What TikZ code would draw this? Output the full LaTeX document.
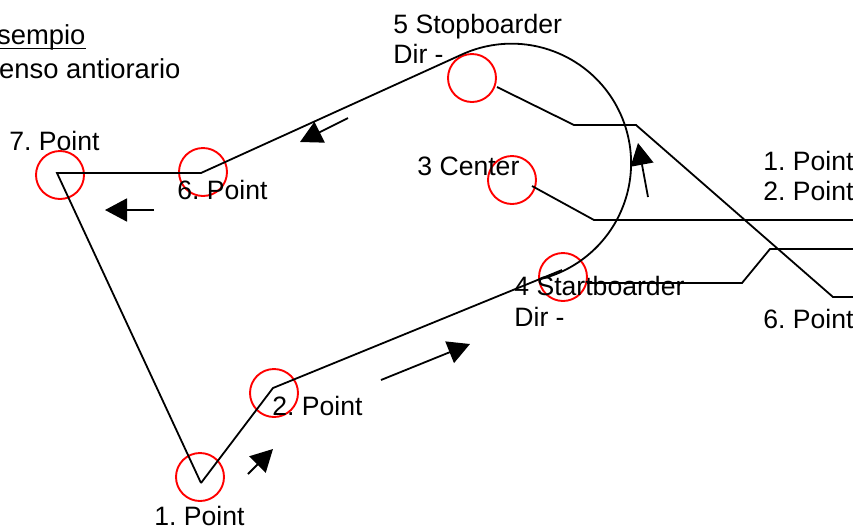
\documentclass[tikz,border=0pt]{standalone}
\usepackage{fontspec}
\setmainfont{Liberation Sans}
\usetikzlibrary{arrows.meta}
\frenchspacing
\begin{document}
\begin{tikzpicture}[x=0.5pt,y=-0.5pt]
	\clip (0,0) rectangle (853,526);
	\tikzstyle{mark point}=[circle,draw=red,line width=0.95pt,minimum size=24pt,inner sep=0pt]
	\tikzstyle{txt}=[anchor=base west,inner sep=0pt,font=\fontsize{13.3}{15}\selectfont]
	\tikzstyle{head}=[anchor=base west,inner sep=0pt,font=\fontsize{13.7}{15}\selectfont]
	\tikzstyle{line}=[line width=0.9pt,line join=miter]
	\tikzstyle{dir}=[line width=0.9pt,-{Triangle[length=11pt,width=11.5pt]}]

	\coordinate (P1) at (201,483);
	\coordinate (P2) at (273,388);
	\coordinate (P4) at (562,270);
	\coordinate (P5) at (463,54);
	\coordinate (P6) at (201,173);
	\coordinate (P7) at (57,173);

	\node[mark point] (M1) at (200,477) {};
	\node[mark point] (M2) at (274,393) {};
	\node[mark point] (M3) at (512,180) {};
	\node[mark point] (M4) at (563,277) {};
	\node[mark point] (M5) at (472,78) {};
	\node[mark point] (M6) at (203,172) {};
	\node[mark point] (M7) at (60,175) {};

	\draw[line] (P1) -- (P2) -- (P4);
	\draw[line] (P5) -- (P6) -- (P7) -- (P1);
	\draw[line] (P5) arc[start angle=-114,end angle=76.3,radius=119.5];

	% leaders
	\coordinate (L5a) at (497,87);
	\coordinate (L5b) at (574,125);
	\coordinate (L5c) at (636,125);
	\coordinate (L5d) at (833,297);
	\coordinate (L5e) at (853,297);
	\coordinate (L3a) at (532,186);
	\coordinate (L3b) at (594,220);
	\coordinate (L3c) at (853,220);
	\coordinate (L4a) at (587,283);
	\coordinate (L4b) at (742,283);
	\coordinate (L4c) at (770,249);
	\coordinate (L4d) at (853,249);
	\draw[line] (L5a) -- (L5b) -- (L5c) -- (L5d) -- (L5e);
	\draw[line] (L3a) -- (L3b) -- (L3c);
	\draw[line] (L4a) -- (L4b) -- (L4c) -- (L4d);

	% direction arrows
	\coordinate (A1a) at (248,474);
	\coordinate (A1b) at (273,449);
	\coordinate (A2a) at (381,380);
	\coordinate (A2b) at (470,344);
	\coordinate (A3a) at (348,118);
	\coordinate (A3b) at (300,142);
	\coordinate (A4a) at (154,210);
	\coordinate (A4b) at (105,210);
	\coordinate (A5a) at (648,197);
	\coordinate (A5b) at (638,143);
	\draw[dir] (A1a) -- (A1b);
	\draw[dir] (A2a) -- (A2b);
	\draw[dir] (A3a) -- (A3b);
	\draw[dir] (A4a) -- (A4b);
	\draw[dir] (A5a) -- (A5b);

	\node[head] (T0) at (-21.6,44) {Esempio};
	\draw[line width=0.7pt] ([yshift=-2.3pt]T0.base west) -- ([yshift=-2.3pt]T0.base east);
	\node[head] (T00) at (-19.5,78) {Senso antiorario};
	\node[txt] (T1) at (154,525) {1. Point};
	\node[txt] (T2) at (272,415) {2. Point};
	\node[txt] (T3) at (417,175) {3 Center};
	\node[txt] (T4) at (514,295) {4 Startboarder};
	\node[txt] (T4d) at (514,326) {Dir -};
	\node[txt] (T5) at (393,33) {5 Stopboarder};
	\node[txt] (T5d) at (393,63) {Dir -};
	\node[txt] (T6) at (177,199) {6. Point};
	\node[txt] (T7) at (9,150) {7. Point};
	\node[txt] (R1) at (763,170) {1. Point};
	\node[txt] (R2) at (763,200) {2. Point};
	\node[txt] (R6) at (763,328) {6. Point};
\end{tikzpicture}
\end{document}
